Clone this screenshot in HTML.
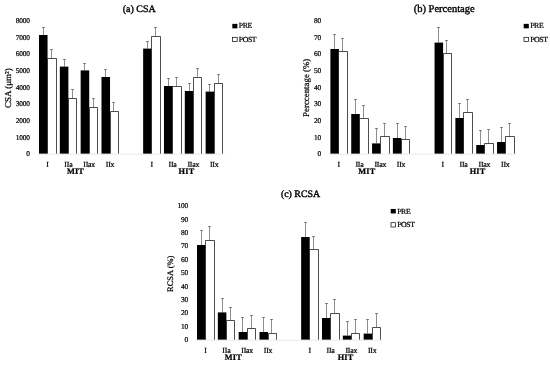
<!DOCTYPE html>
<html lang="en">
<head>
<meta charset="utf-8">
<title>CSA, Percentage and RCSA by fibre type (PRE vs POST)</title>
<style>
html,body{margin:0;padding:0;background:#fff;}
body{width:550px;height:365px;overflow:hidden;}
svg{display:block;opacity:0.999;will-change:transform;}
text{font-family:"Liberation Serif", "DejaVu Serif", serif;text-rendering:geometricPrecision;fill:#000;stroke:#000;stroke-width:0.22;}
.t{font-size:7.8px;letter-spacing:-0.2px;}
.l{font-size:7.8px;letter-spacing:-0.42px;}
.h{stroke-width:0.38;}
.n{font-size:7.4px;letter-spacing:-0.2px;}
.g{font-size:8.3px;font-weight:bold;letter-spacing:0.2px;}
.ax{stroke:#e4e4e4;stroke-width:0.8;fill:none;}
.k{fill:#000;}
.w{fill:#fff;stroke:#000;stroke-width:0.7;}
.e{stroke:#1a1a1a;stroke-width:0.5;fill:none;}
</style>
</head>
<body>
<svg width="550" height="365" viewBox="0 0 550 365">
<rect x="0" y="0" width="550" height="365" fill="#fff"/>
<g id="chart-a">
<text class="h" x="139.2" y="11.9" font-size="10" text-anchor="middle">(a) CSA</text>
<text transform="translate(10.7 88.2) rotate(-90)" font-size="9" text-anchor="middle">CSA (μm²)</text>
<text class="n" x="29.8" y="156.35" text-anchor="end">0</text>
<text class="n" x="29.8" y="139.67" text-anchor="end">1000</text>
<text class="n" x="29.8" y="122.99" text-anchor="end">2000</text>
<text class="n" x="29.8" y="106.31" text-anchor="end">3000</text>
<text class="n" x="29.8" y="89.63" text-anchor="end">4000</text>
<text class="n" x="29.8" y="72.95" text-anchor="end">5000</text>
<text class="n" x="29.8" y="56.27" text-anchor="end">6000</text>
<text class="n" x="29.8" y="39.59" text-anchor="end">7000</text>
<text class="n" x="29.8" y="22.91" text-anchor="end">8000</text>
<path class="e" d="M43.50 35.00V27.50M42.00 27.50H45.00"/>
<path class="e" d="M51.50 58.60V49.50M50.00 49.50H53.00"/>
<rect class="k" x="39.00" y="35.00" width="8.55" height="118.80"/>
<path class="w" d="M47.50 153.80V58.50H56.50V153.80"/>
<text class="t" x="47.55" y="166.8" text-anchor="middle">I</text>
<path class="e" d="M64.50 66.60V59.50M63.00 59.50H66.00"/>
<path class="e" d="M72.50 98.40V89.50M71.00 89.50H74.00"/>
<rect class="k" x="59.83" y="66.60" width="8.55" height="87.20"/>
<path class="w" d="M68.50 153.80V98.50H76.50V153.80"/>
<text class="t" x="68.38" y="166.8" text-anchor="middle">IIa</text>
<path class="e" d="M84.50 70.40V63.50M83.00 63.50H86.00"/>
<path class="e" d="M93.50 107.40V98.50M92.00 98.50H95.00"/>
<rect class="k" x="80.66" y="70.40" width="8.55" height="83.40"/>
<path class="w" d="M89.50 153.80V107.50H97.50V153.80"/>
<text class="t" x="89.21" y="166.8" text-anchor="middle">IIax</text>
<path class="e" d="M105.50 77.00V69.50M104.00 69.50H107.00"/>
<path class="e" d="M113.50 111.00V102.50M112.00 102.50H115.00"/>
<rect class="k" x="101.49" y="77.00" width="8.55" height="76.80"/>
<path class="w" d="M110.50 153.80V111.50H118.50V153.80"/>
<text class="t" x="110.04" y="166.8" text-anchor="middle">IIx</text>
<path class="e" d="M147.50 48.60V41.50M146.00 41.50H149.00"/>
<path class="e" d="M155.50 36.60V27.50M154.00 27.50H157.00"/>
<rect class="k" x="143.15" y="48.60" width="8.55" height="105.20"/>
<path class="w" d="M151.50 153.80V36.50H160.50V153.80"/>
<text class="t" x="151.70" y="166.8" text-anchor="middle">I</text>
<path class="e" d="M168.50 86.00V78.50M167.00 78.50H170.00"/>
<path class="e" d="M176.50 86.00V77.50M175.00 77.50H178.00"/>
<rect class="k" x="163.98" y="86.00" width="8.55" height="67.80"/>
<path class="w" d="M172.50 153.80V86.50H181.50V153.80"/>
<text class="t" x="172.53" y="166.8" text-anchor="middle">IIa</text>
<path class="e" d="M189.50 91.00V83.50M188.00 83.50H191.00"/>
<path class="e" d="M197.50 76.80V68.50M196.00 68.50H199.00"/>
<rect class="k" x="184.81" y="91.00" width="8.55" height="62.80"/>
<path class="w" d="M193.50 153.80V77.50H201.50V153.80"/>
<text class="t" x="193.36" y="166.8" text-anchor="middle">IIax</text>
<path class="e" d="M209.50 91.60V84.50M208.00 84.50H211.00"/>
<path class="e" d="M218.50 82.90V74.50M217.00 74.50H220.00"/>
<rect class="k" x="205.64" y="91.60" width="8.55" height="62.20"/>
<path class="w" d="M214.50 153.80V83.50H222.50V153.80"/>
<text class="t" x="214.19" y="166.8" text-anchor="middle">IIx</text>
<line class="ax" x1="37.20" y1="154.20" x2="224.67" y2="154.20"/>
<text class="g" x="75.5" y="173.6" text-anchor="middle">MIT</text>
<text class="g" x="186.5" y="173.6" text-anchor="middle">HIT</text>
<rect class="k" x="232.30" y="23.85" width="5.1" height="4.5"/>
<text class="l" x="238.8" y="28.4">PRE</text>
<rect class="w" x="232.60" y="37.30" width="4.6" height="4.3"/>
<text class="l" x="238.8" y="41.9">POST</text>
</g>
<g id="chart-b">
<text class="h" x="444.2" y="11.8" font-size="10.5" text-anchor="middle">(b) Percentage</text>
<text transform="translate(309.4 87.8) rotate(-90)" font-size="8.85" text-anchor="middle">Perccentage (%)</text>
<text class="n" x="321.0" y="156.35" text-anchor="end">0</text>
<text class="n" x="321.0" y="139.67" text-anchor="end">10</text>
<text class="n" x="321.0" y="122.99" text-anchor="end">20</text>
<text class="n" x="321.0" y="106.31" text-anchor="end">30</text>
<text class="n" x="321.0" y="89.63" text-anchor="end">40</text>
<text class="n" x="321.0" y="72.95" text-anchor="end">50</text>
<text class="n" x="321.0" y="56.27" text-anchor="end">60</text>
<text class="n" x="321.0" y="39.59" text-anchor="end">70</text>
<text class="n" x="321.0" y="22.91" text-anchor="end">80</text>
<path class="e" d="M334.50 49.00V34.50M333.00 34.50H336.00"/>
<path class="e" d="M342.50 51.60V38.50M341.00 38.50H344.00"/>
<rect class="k" x="330.40" y="49.00" width="8.55" height="104.80"/>
<path class="w" d="M338.50 153.80V51.50H347.50V153.80"/>
<text class="t" x="338.60" y="166.8" text-anchor="middle">I</text>
<path class="e" d="M355.50 114.00V99.50M354.00 99.50H357.00"/>
<path class="e" d="M363.50 118.60V105.50M362.00 105.50H365.00"/>
<rect class="k" x="351.23" y="114.00" width="8.55" height="39.80"/>
<path class="w" d="M359.50 153.80V118.50H368.50V153.80"/>
<text class="t" x="359.43" y="166.8" text-anchor="middle">IIa</text>
<path class="e" d="M376.50 143.40V128.50M375.00 128.50H378.00"/>
<path class="e" d="M384.50 136.60V123.50M383.00 123.50H386.00"/>
<rect class="k" x="372.06" y="143.40" width="8.55" height="10.40"/>
<path class="w" d="M380.50 153.80V136.50H389.50V153.80"/>
<text class="t" x="380.26" y="166.8" text-anchor="middle">IIax</text>
<path class="e" d="M397.50 138.00V123.50M396.00 123.50H399.00"/>
<path class="e" d="M405.50 139.40V126.50M404.00 126.50H407.00"/>
<rect class="k" x="392.89" y="138.00" width="8.55" height="15.80"/>
<path class="w" d="M401.50 153.80V139.50H409.50V153.80"/>
<text class="t" x="401.09" y="166.8" text-anchor="middle">IIx</text>
<path class="e" d="M438.50 42.60V27.50M437.00 27.50H440.00"/>
<path class="e" d="M446.50 53.60V40.50M445.00 40.50H448.00"/>
<rect class="k" x="434.55" y="42.60" width="8.55" height="111.20"/>
<path class="w" d="M443.50 153.80V53.50H451.50V153.80"/>
<text class="t" x="442.75" y="166.8" text-anchor="middle">I</text>
<path class="e" d="M459.50 118.00V103.50M458.00 103.50H461.00"/>
<path class="e" d="M467.50 112.40V99.50M466.00 99.50H469.00"/>
<rect class="k" x="455.38" y="118.00" width="8.55" height="35.80"/>
<path class="w" d="M463.50 153.80V112.50H472.50V153.80"/>
<text class="t" x="463.58" y="166.8" text-anchor="middle">IIa</text>
<path class="e" d="M480.50 145.00V130.50M479.00 130.50H482.00"/>
<path class="e" d="M488.50 143.20V129.50M487.00 129.50H490.00"/>
<rect class="k" x="476.21" y="145.00" width="8.55" height="8.80"/>
<path class="w" d="M484.50 153.80V143.50H493.50V153.80"/>
<text class="t" x="484.41" y="166.8" text-anchor="middle">IIax</text>
<path class="e" d="M501.50 142.00V127.50M500.00 127.50H503.00"/>
<path class="e" d="M509.50 136.60V123.50M508.00 123.50H511.00"/>
<rect class="k" x="497.04" y="142.00" width="8.55" height="11.80"/>
<path class="w" d="M505.50 153.80V136.50H514.50V153.80"/>
<text class="t" x="505.24" y="166.8" text-anchor="middle">IIx</text>
<line class="ax" x1="328.60" y1="154.20" x2="516.07" y2="154.20"/>
<text class="g" x="366.8" y="173.6" text-anchor="middle">MIT</text>
<text class="g" x="477.6" y="173.6" text-anchor="middle">HIT</text>
<rect class="k" x="523.70" y="23.85" width="5.1" height="4.5"/>
<text class="l" x="530.2" y="28.4">PRE</text>
<rect class="w" x="524.00" y="37.30" width="4.6" height="4.3"/>
<text class="l" x="530.2" y="41.9">POST</text>
</g>
<g id="chart-c">
<text class="h" x="300.5" y="197.1" font-size="9.9" text-anchor="middle">(c) RCSA</text>
<text transform="translate(173.4 273.8) rotate(-90)" font-size="8.45" text-anchor="middle">RCSA (%)</text>
<text class="n" x="188.0" y="342.20" text-anchor="end">0</text>
<text class="n" x="188.0" y="328.80" text-anchor="end">10</text>
<text class="n" x="188.0" y="315.40" text-anchor="end">20</text>
<text class="n" x="188.0" y="302.00" text-anchor="end">30</text>
<text class="n" x="188.0" y="288.60" text-anchor="end">40</text>
<text class="n" x="188.0" y="275.20" text-anchor="end">50</text>
<text class="n" x="188.0" y="261.80" text-anchor="end">60</text>
<text class="n" x="188.0" y="248.40" text-anchor="end">70</text>
<text class="n" x="188.0" y="235.00" text-anchor="end">80</text>
<text class="n" x="188.0" y="221.60" text-anchor="end">90</text>
<text class="n" x="188.0" y="208.20" text-anchor="end">100</text>
<path class="e" d="M201.50 245.00V230.50M200.00 230.50H203.00"/>
<path class="e" d="M209.50 240.00V226.50M208.00 226.50H211.00"/>
<rect class="k" x="197.00" y="245.00" width="8.55" height="94.80"/>
<path class="w" d="M205.50 339.80V240.50H214.50V339.80"/>
<text class="t" x="205.55" y="352.9" text-anchor="middle">I</text>
<path class="e" d="M222.50 312.40V298.50M221.00 298.50H224.00"/>
<path class="e" d="M230.50 320.40V307.50M229.00 307.50H232.00"/>
<rect class="k" x="217.83" y="312.40" width="8.55" height="27.40"/>
<path class="w" d="M226.50 339.80V320.50H234.50V339.80"/>
<text class="t" x="226.38" y="352.9" text-anchor="middle">IIa</text>
<path class="e" d="M242.50 332.00V317.50M241.00 317.50H244.00"/>
<path class="e" d="M251.50 328.40V315.50M250.00 315.50H253.00"/>
<rect class="k" x="238.66" y="332.00" width="8.55" height="7.80"/>
<path class="w" d="M247.50 339.80V328.50H255.50V339.80"/>
<text class="t" x="247.21" y="352.9" text-anchor="middle">IIax</text>
<path class="e" d="M263.50 332.00V317.50M262.00 317.50H265.00"/>
<path class="e" d="M271.50 333.00V319.50M270.00 319.50H273.00"/>
<rect class="k" x="259.49" y="332.00" width="8.55" height="7.80"/>
<path class="w" d="M268.50 339.80V333.50H276.50V339.80"/>
<text class="t" x="268.04" y="352.9" text-anchor="middle">IIx</text>
<path class="e" d="M305.50 237.00V222.50M304.00 222.50H307.00"/>
<path class="e" d="M313.50 249.60V236.50M312.00 236.50H315.00"/>
<rect class="k" x="301.15" y="237.00" width="8.55" height="102.80"/>
<path class="w" d="M309.50 339.80V249.50H318.50V339.80"/>
<text class="t" x="309.70" y="352.9" text-anchor="middle">I</text>
<path class="e" d="M326.50 318.00V303.50M325.00 303.50H328.00"/>
<path class="e" d="M334.50 313.00V299.50M333.00 299.50H336.00"/>
<rect class="k" x="321.98" y="318.00" width="8.55" height="21.80"/>
<path class="w" d="M330.50 339.80V313.50H339.50V339.80"/>
<text class="t" x="330.53" y="352.9" text-anchor="middle">IIa</text>
<path class="e" d="M347.50 335.60V321.50M346.00 321.50H349.00"/>
<path class="e" d="M355.50 333.00V319.50M354.00 319.50H357.00"/>
<rect class="k" x="342.81" y="335.60" width="8.55" height="4.20"/>
<path class="w" d="M351.50 339.80V333.50H359.50V339.80"/>
<text class="t" x="351.36" y="352.9" text-anchor="middle">IIax</text>
<path class="e" d="M367.50 333.60V319.50M366.00 319.50H369.00"/>
<path class="e" d="M376.50 327.00V313.50M375.00 313.50H378.00"/>
<rect class="k" x="363.64" y="333.60" width="8.55" height="6.20"/>
<path class="w" d="M372.50 339.80V327.50H380.50V339.80"/>
<text class="t" x="372.19" y="352.9" text-anchor="middle">IIx</text>
<line class="ax" x1="195.20" y1="340.20" x2="382.67" y2="340.20"/>
<text class="g" x="233.4" y="359.9" text-anchor="middle">MIT</text>
<text class="g" x="345.6" y="359.9" text-anchor="middle">HIT</text>
<rect class="k" x="390.70" y="208.95" width="5.1" height="4.5"/>
<text class="l" x="397.2" y="213.5">PRE</text>
<rect class="w" x="391.00" y="222.70" width="4.6" height="4.3"/>
<text class="l" x="397.2" y="227.3">POST</text>
</g>
</svg>
</body>
</html>
